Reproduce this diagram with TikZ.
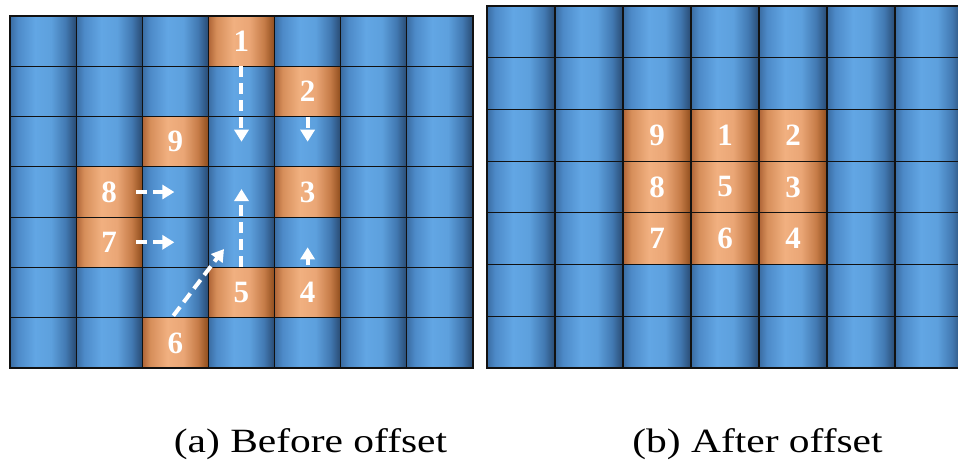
\documentclass[tikz,border=0pt]{standalone}
\usepackage{fontspec}
\usepackage{graphicx}
\setmainfont{Liberation Serif}
\usetikzlibrary{arrows.meta}

\definecolor{bA}{HTML}{3A6CA2}
\definecolor{bB}{HTML}{4D8AC8}
\definecolor{bC}{HTML}{62A6E4}
\definecolor{bD}{HTML}{5DA0DD}
\definecolor{bE}{HTML}{4279B2}
\definecolor{bF}{HTML}{284A72}
\definecolor{oA}{HTML}{AE6436}
\definecolor{oB}{HTML}{D68E5A}
\definecolor{oC}{HTML}{F1B080}
\definecolor{oD}{HTML}{EAA676}
\definecolor{oE}{HTML}{C67C48}
\definecolor{oF}{HTML}{8E4C1C}
\definecolor{gridline}{HTML}{111111}

\pgfdeclarehorizontalshading{bluecyl}{100bp}{color(0bp)=(bA); color(25bp)=(bA); color(31bp)=(bB); color(44bp)=(bC); color(56bp)=(bD); color(67bp)=(bE); color(75bp)=(bF); color(100bp)=(bF)}
\pgfdeclarehorizontalshading{orangecyl}{100bp}{color(0bp)=(oA); color(25bp)=(oA); color(31bp)=(oB); color(44bp)=(oC); color(56bp)=(oD); color(67bp)=(oE); color(75bp)=(oF); color(100bp)=(oF)}

\tikzset{
  cellbox/.style={draw=gridline, line width=1.2pt, inner sep=0pt, outer sep=0pt},
  lcell/.style={cellbox, minimum width=66.14pt, minimum height=50.29pt},
  rcell/.style={cellbox, minimum width=68pt, minimum height=51.71pt},
  bluec/.style={shading=bluecyl},
  orangec/.style={shading=orangecyl, text=white, font=\bfseries\fontsize{31}{31}\selectfont},
  moveArrow/.style={draw=white, line width=4pt, dash pattern=on 11pt off 6pt,
    -{Triangle[width=14pt,length=12pt]}},
  caption/.style={font=\fontsize{34}{34}\selectfont, text=black, anchor=base}
}

\begin{document}
\begin{tikzpicture}[x=1pt,y=-1pt]
\useasboundingbox (0,0) rectangle (958,464);
\clip (0,0) rectangle (958,464);
\fill[white] (0,0) rectangle (958,464);

% ---------- left grid (a) ----------
\foreach \r in {0,...,6}{
  \foreach \c in {0,...,6}{
    \node[lcell, bluec] (L-\r-\c) at ({10+66.14*(\c+0.5)}, {16+50.29*(\r+0.5)}) {};
  }
}
\foreach \r/\c/\t in {0/3/1, 1/4/2, 3/4/3, 5/4/4, 5/3/5, 6/2/6, 4/1/7, 3/1/8, 2/2/9}{
  \node[lcell, orangec] (La\t) at (L-\r-\c) {\raisebox{-2pt}{\t}};
}

% ---------- right grid (b) ----------
\foreach \r in {0,...,6}{
  \foreach \c in {0,...,6}{
    \node[rcell, bluec] (R-\r-\c) at ({487+68*(\c+0.5)}, {6+51.71*(\r+0.5)}) {};
  }
}
\foreach \r/\c/\t in {2/2/9, 2/3/1, 2/4/2, 3/2/8, 3/3/5, 3/4/3, 4/2/7, 4/3/6, 4/4/4}{
  \node[rcell, orangec] (Rb\t) at (R-\r-\c) {\raisebox{-2pt}{\t}};
}

% ---------- movement arrows ----------
\coordinate (e1) at (L-2-3.center);
\coordinate (e2) at (L-2-4.center);
\coordinate (s8) at ([xshift=-6pt]La8.east);
\coordinate (e8) at ([xshift=-1pt]L-3-2.center);
\coordinate (s7) at ([xshift=-6pt]La7.east);
\coordinate (e7) at ([xshift=-1pt]L-4-2.center);
\coordinate (e5) at ([yshift=3pt]L-3-3.center);
\coordinate (s4) at ([yshift=2pt]La4.north);
\coordinate (e4) at ([yshift=-5pt]L-4-4.center);
\coordinate (s6) at ([xshift=-2pt,yshift=2pt]La6.north);
\coordinate (e6) at (224,249);

\draw[moveArrow] (La1.south) -- (e1);
\draw[moveArrow] (La2.south) -- (e2);
\draw[moveArrow] (s8) -- (e8);
\draw[moveArrow] (s7) -- (e7);
\draw[moveArrow] (La5.north) -- (e5);
\draw[moveArrow] (s4) -- (e4);
\draw[moveArrow] (s6) -- (e6);

% ---------- captions ----------
\node[caption] (capa) at (310.5,452) {\scalebox{1.22}[1]{(a) Before offset}};
\node[caption] (capb) at (757.5,452) {\scalebox{1.22}[1]{(b) After offset}};
\end{tikzpicture}
\end{document}
